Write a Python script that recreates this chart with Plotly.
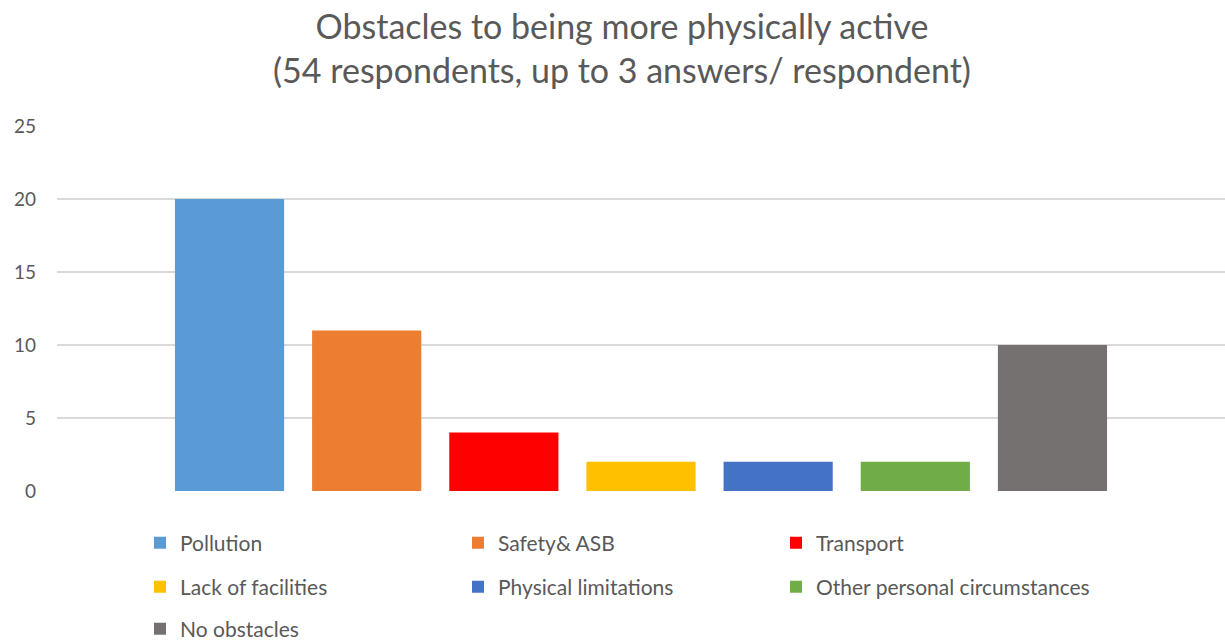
import plotly.graph_objects as go

# Survey answers: number of respondents naming each obstacle
categories = [
    "Pollution",
    "Safety& ASB",
    "Transport",
    "Lack of facilities",
    "Physical limitations",
    "Other personal circumstances",
    "No obstacles",
]
counts = [20, 11, 4, 2, 2, 2, 10]
colors = ["#5B9BD5", "#ED7D31", "#FF0000", "#FFC000", "#4472C4", "#70AD47", "#767171"]
y_ticks = [0, 5, 10, 15, 20, 25]

# legend rows (three entries per row)
legend_rows = ["legend", "legend", "legend", "legend2", "legend2", "legend2", "legend3"]

FONT = "Lato, 'Open Sans', sans-serif"
TEXT = "#595959"

fig = go.Figure()
for name, val, col, lg in zip(categories, counts, colors, legend_rows):
    fig.add_trace(go.Bar(
        x=[""], y=[val], name=name, marker=dict(color=col, line=dict(width=0)),
        legend=lg, hoverinfo="name+y",
    ))

W, H = 1225, 641
L, R, T, B = 57, 0, 126, 150
pw, ph = W - L - R, H - T - B


def px_x(x):
    return (x - L) / pw


def px_y(y):
    return (H - B - y) / ph


legend_common = dict(
    orientation="h", xanchor="left", yanchor="middle",
    font=dict(family=FONT, size=21, color=TEXT),
    entrywidth=273, itemwidth=30, bgcolor="rgba(0,0,0,0)",
    traceorder="normal",
)

fig.update_layout(
    width=W, height=H,
    margin=dict(l=L, r=R, t=T, b=B, autoexpand=False),
    paper_bgcolor="white", plot_bgcolor="white",
    barmode="group", bargap=0.178, bargroupgap=0.204,
    font=dict(family=FONT, color=TEXT),
    title=dict(
        text="Obstacles to being more physically active<br>(54 respondents, up to 3 answers/ respondent)",
        x=622 / W, xanchor="center", y=1 - 39 / H, yanchor="middle",
        font=dict(family=FONT, size=34, color=TEXT),
    ),
    showlegend=True,
    legend=dict(x=px_x(140), y=px_y(543), **legend_common),
    legend2=dict(x=px_x(140), y=px_y(587), **legend_common),
    legend3=dict(x=px_x(140), y=px_y(629), **legend_common),
    xaxis=dict(showticklabels=False, showgrid=False, zeroline=False, showline=False),
    yaxis=dict(
        range=[0, 25], tickvals=y_ticks, showgrid=True, gridcolor="#D9D9D9", gridwidth=1.5,
        zeroline=False, showline=False, ticks="", ticklabelstandoff=20,
        tickfont=dict(family=FONT, size=19, color=TEXT),
    ),
)

fig.write_html("out.html")
